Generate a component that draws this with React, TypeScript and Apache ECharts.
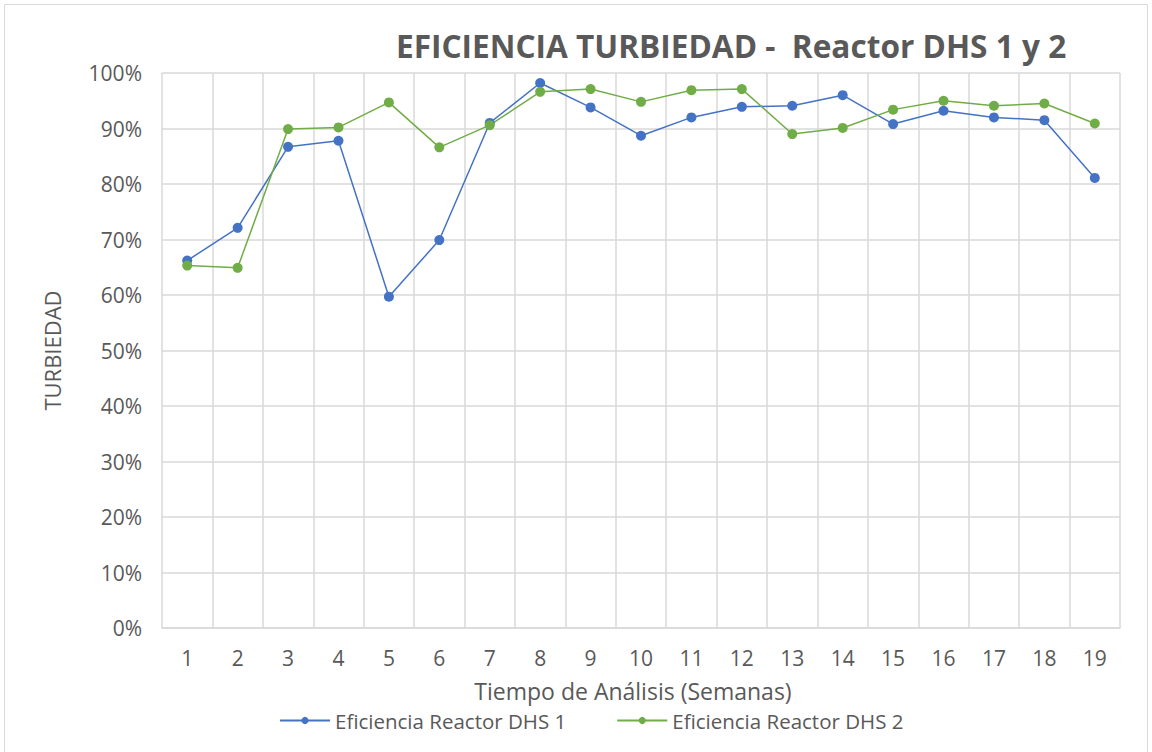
import React, { useEffect, useRef } from "react";
import * as echarts from "echarts";

const weeks = ["1","2","3","4","5","6","7","8","9","10","11","12","13","14","15","16","17","18","19"];
const reactor1 = [66.2, 72.1, 86.7, 87.8, 59.7, 69.9, 91.0, 98.2, 93.8, 88.7, 92.0, 93.9, 94.1, 96.0, 90.8, 93.2, 92.0, 91.5, 81.1];
const reactor2 = [65.3, 64.9, 89.9, 90.2, 94.7, 86.6, 90.6, 96.6, 97.1, 94.8, 96.9, 97.1, 89.0, 90.1, 93.4, 95.0, 94.1, 94.5, 90.9];
const seriesNames = ["Eficiencia Reactor DHS 1", "Eficiencia Reactor DHS 2"];
const titleText = "EFICIENCIA TURBIEDAD -  Reactor DHS 1 y 2";
const xName = "Tiempo de Análisis (Semanas)";
const yName = "TURBIEDAD";

const FONT = "Open Sans";
const TXT = "#595959";
const GRID = "#D9D9D9";

export default function App() {
  const ref = useRef<HTMLDivElement>(null);
  useEffect(() => {
    if (!ref.current) return;
    const chart = echarts.init(ref.current, null, { renderer: "svg" });
    chart.setOption({
      animation: false,
      backgroundColor: "#fff",
      textStyle: { fontFamily: FONT },
      title: {
        text: titleText,
        left: 391,
        top: 24,
        textStyle: { fontFamily: FONT, fontSize: 31.6, fontWeight: "bold", color: TXT },
      },
      graphic: [
        {
          type: "rect",
          shape: { x: 4.5, y: 4.5, width: 1143, height: 760 },
          style: { fill: "none", stroke: GRID, lineWidth: 1 },
          silent: true,
        },
      ],
      legend: {
        bottom: 16,
        left: 274,
        itemWidth: 50,
        itemHeight: 9,
        itemGap: 50,
        textStyle: { fontFamily: FONT, fontSize: 20.5, color: TXT },
        data: seriesNames,
      },
      grid: { left: 162, right: 32, top: 73, bottom: 124 },
      xAxis: {
        type: "category",
        data: weeks,
        boundaryGap: true,
        name: xName,
        nameLocation: "middle",
        nameGap: 51,
        nameTextStyle: { fontFamily: FONT, fontSize: 23, color: TXT, padding: [0, 16, 0, 0] },
        axisLine: { show: true, lineStyle: { color: GRID, width: 1.5 } },
        axisTick: { show: false },
        axisLabel: { fontFamily: FONT, fontSize: 21, color: TXT, margin: 19 },
        splitLine: { show: true, lineStyle: { color: GRID, width: 1.5 } },
      },
      yAxis: {
        type: "value",
        min: 0,
        max: 100,
        interval: 10,
        name: yName,
        nameLocation: "middle",
        nameGap: 99,
        nameTextStyle: { fontFamily: FONT, fontSize: 22, color: TXT },
        axisLine: { show: false },
        axisTick: { show: false },
        axisLabel: { fontFamily: FONT, fontSize: 21, color: TXT, margin: 20, formatter: "{value}%" },
        splitLine: { show: true, lineStyle: { color: GRID, width: 1.5 } },
      },
      series: [
        {
          name: seriesNames[0],
          type: "line",
          data: reactor1,
          symbol: "circle",
          symbolSize: 10,
          color: "#4472C4",
          lineStyle: { width: 1.5, color: "#4472C4" },
          itemStyle: { color: "#4472C4" },
        },
        {
          name: seriesNames[1],
          type: "line",
          data: reactor2,
          symbol: "circle",
          symbolSize: 10,
          color: "#70AD47",
          lineStyle: { width: 1.5, color: "#70AD47" },
          itemStyle: { color: "#70AD47" },
        },
      ],
    });
    return () => chart.dispose();
  }, []);
  return (
    <div
      ref={ref}
      style={{ position: "absolute", left: 0, top: 0, width: 1152, height: 752 }}
    />
  );
}
